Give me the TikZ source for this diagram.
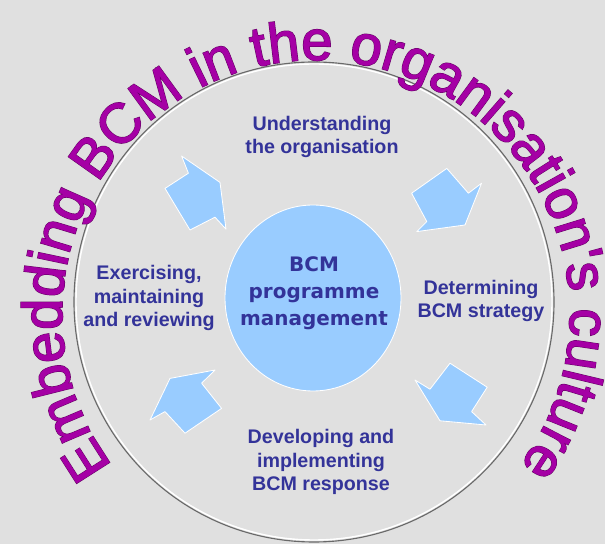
\documentclass[tikz,border=0pt]{standalone}
\usepackage{fontspec}
\setmainfont{Liberation Sans}
\newfontfamily\hubfont{DejaVu Sans}
\newfontfamily\archfont[FakeBold=1.0]{Liberation Sans}
\newfontfamily\archrim[FakeBold=2.8]{Liberation Sans}
\usetikzlibrary{decorations.text,shapes.geometric}

\definecolor{paper}{RGB}{224,224,224}
\definecolor{ringgrey}{RGB}{105,105,105}
\definecolor{paleblue}{RGB}{153,204,255}
\definecolor{inkblue}{RGB}{51,51,153}
\definecolor{archpurple}{RGB}{165,0,165}
\definecolor{archdark}{RGB}{95,0,95}

\tikzset{
  stage/.style={text=inkblue, font=\bfseries\fontsize{14}{17}\selectfont, align=center},
  hub/.style={ellipse, fill=paleblue, draw=white, line width=0.6pt, minimum width=4.4cm, minimum height=4.65cm},
  turn/.style={fill=paleblue, draw=white, line width=0.6pt, line join=round},
}

\begin{document}
\begin{tikzpicture}

% Page
\fill[paper] (0,0) rectangle (15.125,13.6);
\useasboundingbox (0,0) rectangle (15.125,13.6);

% Outer ring
\draw[white, line width=1pt] (7.85,6.05) circle (5.95);
\draw[ringgrey, line width=0.8pt] (7.85,6.05) circle (6.0);

% Heading round the ring: dark rim first, then the fill on top
\path[decorate, decoration={text along path, text align=center, text color=archdark,
    text={|\archrim\fontsize{40}{40}\selectfont|Embedding BCM in the organisation's culture}}]
  (7.9,5.75) ++(216:6.35) arc[start angle=216, end angle=-36, radius=6.35];
\path[decorate, decoration={text along path, text align=center, text color=archpurple,
    text={|\archfont\fontsize{40}{40}\selectfont|Embedding BCM in the organisation's culture}}]
  (7.9,5.75) ++(216:6.35) arc[start angle=216, end angle=-36, radius=6.35];

% Centre
\node[hub] (hub) at (7.825,6.15) {};
\node[text=inkblue, font=\hubfont\bfseries\fontsize{14.2}{19.2}\selectfont, align=center]
  (hubtext) at (7.85,6.28) {BCM\\programme\\management};

% Stages
\node[stage] (understand) at (8.05,10.175) {Understanding\\the organisation};
\node[stage] (determine) at (12.025,6.075) {Determining\\BCM strategy};
\node[stage] (develop) at (8.025,2.05) {Developing and\\implementing\\BCM response};
\node[stage] (exercise) at (3.725,6.15) {Exercising,\\maintaining\\and reviewing};

% Arrows between stages
\draw[turn] (4.54,9.70) -- (5.50,9.04) -- (5.65,7.87) -- (5.375,8.17) -- (4.75,7.85) -- (4.125,8.89) -- (4.71,9.27) -- cycle;
\draw[turn] (11.17,9.39) -- (11.71,8.77) -- (12.04,9.02) -- (11.625,7.975) -- (10.42,7.81) -- (10.67,8.06) -- (10.29,8.77) -- cycle;
\draw[turn] (10.375,4.10) -- (10.75,3.87) -- (11.25,4.52) -- (12.18,3.92) -- (11.79,3.31) -- (12.15,2.975) -- (11.0,3.08) -- cycle;
\draw[turn] (5.375,4.35) -- (5.04,4.02) -- (5.54,3.39) -- (4.625,2.77) -- (4.125,3.31) -- (3.75,3.10) -- (4.25,4.14) -- cycle;

\end{tikzpicture}
\end{document}
